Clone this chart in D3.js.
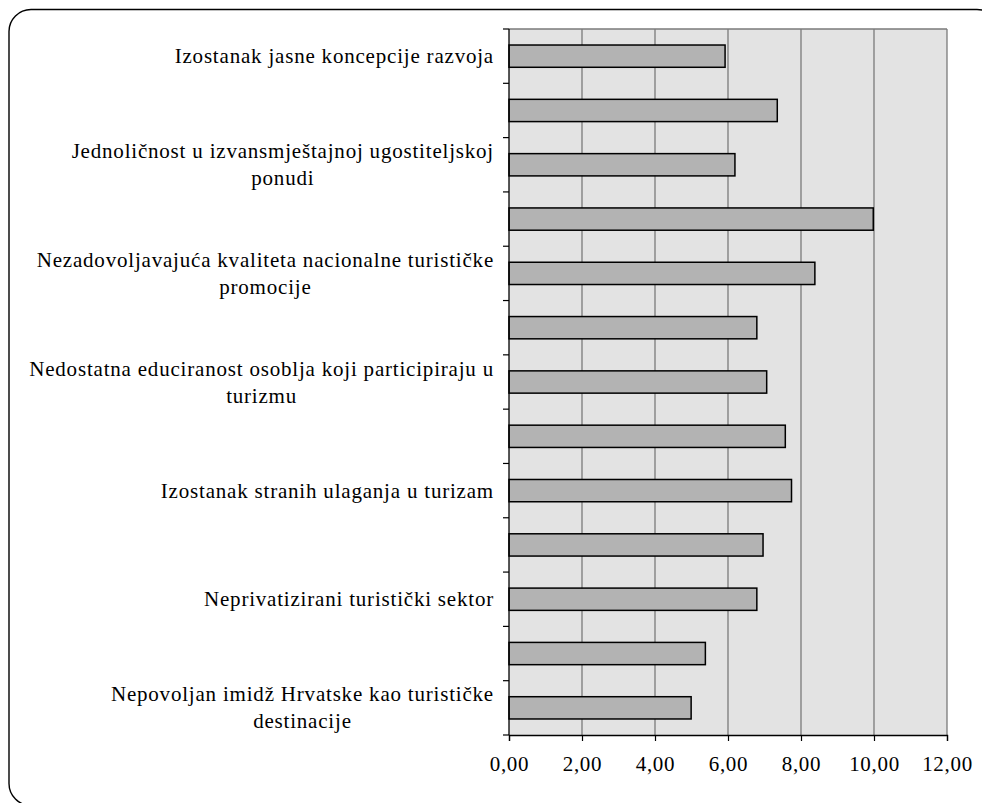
<!DOCTYPE html>
<html>
<head>
<meta charset="utf-8">
<script src="https://cdn.jsdelivr.net/npm/d3@7"></script>
<style>
  html, body { margin: 0; padding: 0; background: #ffffff; }
  svg { display: block; }
</style>
</head>
<body>
<svg id="chart" width="982" height="803"></svg>
<script>
// Category labels (blank entries are unlabelled bars); "\n" marks a line break
const categories = [
  "Izostanak jasne koncepcije razvoja",
  "",
  "Jednoličnost u izvansmještajnoj ugostiteljskoj\nponudi",
  "",
  "Nezadovoljavajuća kvaliteta nacionalne turističke\npromocije",
  "",
  "Nedostatna educiranost osoblja koji participiraju u\nturizmu",
  "",
  "Izostanak stranih ulaganja u turizam",
  "",
  "Neprivatizirani turistički sektor",
  "",
  "Nepovoljan imidž Hrvatske kao turističke\ndestinacije"
];
const values = [5.92, 7.35, 6.19, 9.98, 8.38, 6.79, 7.06, 7.57, 7.74, 6.96, 6.79, 5.38, 4.99];
const tickValues = [0, 2, 4, 6, 8, 10, 12];

const FONT = "'Liberation Serif', Tinos, 'DejaVu Serif', serif";

const svg = d3.select("#chart");

// Outer rounded frame
svg.append("rect")
  .attr("x", 9).attr("y", 9.5)
  .attr("width", 990).attr("height", 796)
  .attr("rx", 22).attr("ry", 22)
  .attr("fill", "none").attr("stroke", "#000").attr("stroke-width", 1.4);

const plot = { left: 509, right: 947, top: 29, bottom: 735 };

const x = d3.scaleLinear().domain([0, 12]).range([plot.left, plot.right]);
const y = d3.scaleBand()
  .domain(d3.range(categories.length))
  .range([plot.top, plot.bottom])
  .paddingInner(0.59).paddingOuter(0.295);
const yTicks = d3.scaleBand().domain(d3.range(categories.length)).range([plot.top, plot.bottom]);

// Plot background
svg.append("rect")
  .attr("x", plot.left).attr("y", plot.top)
  .attr("width", plot.right - plot.left).attr("height", plot.bottom - plot.top)
  .attr("fill", "#e3e3e3");

// Vertical gridlines (including the right border) and top border
svg.append("g").selectAll("line")
  .data(tickValues.slice(1))
  .join("line")
  .attr("x1", d => x(d)).attr("x2", d => x(d))
  .attr("y1", plot.top).attr("y2", plot.bottom)
  .attr("stroke", "#7a7a7a").attr("stroke-width", 1.3);
svg.append("line")
  .attr("x1", plot.left).attr("x2", plot.right)
  .attr("y1", plot.top).attr("y2", plot.top)
  .attr("stroke", "#7a7a7a").attr("stroke-width", 1.3);

// Bars
svg.append("g").selectAll("rect")
  .data(values)
  .join("rect")
  .attr("x", x(0))
  .attr("y", (d, i) => y(i))
  .attr("width", d => x(d) - x(0))
  .attr("height", y.bandwidth())
  .attr("fill", "#b3b3b3")
  .attr("stroke", "#000").attr("stroke-width", 1.5);

// Category axis: line and tick marks on band boundaries
const boundaries = d3.range(categories.length + 1).map(i => plot.top + i * yTicks.step());
svg.append("line")
  .attr("x1", plot.left).attr("x2", plot.left)
  .attr("y1", plot.top).attr("y2", plot.bottom)
  .attr("stroke", "#000").attr("stroke-width", 1.3);
svg.append("g").selectAll("line")
  .data(boundaries)
  .join("line")
  .attr("x1", plot.left - 6).attr("x2", plot.left)
  .attr("y1", d => d).attr("y2", d => d)
  .attr("stroke", "#000").attr("stroke-width", 1.2);

// Value axis
const xAxis = d3.axisBottom(x)
  .tickValues(tickValues)
  .tickSize(6)
  .tickPadding(15)
  .tickFormat(d => d3.format(".2f")(d).replace(".", ","));
const gx = svg.append("g")
  .attr("transform", `translate(0,${plot.bottom})`)
  .call(xAxis)
  .attr("font-family", FONT)
  .attr("font-size", 21);
gx.select(".domain").attr("stroke", "#000").attr("stroke-width", 1.3);
gx.selectAll(".tick line").attr("stroke", "#000").attr("stroke-width", 1.2);
gx.selectAll(".tick text")
  .attr("fill", "#000")
  .style("font-family", FONT)
  .style("letter-spacing", "0.7px");

// Category labels: wrapped lines centred within a right-aligned block
const fontSize = 21, lineHeight = 27, labelRight = 494, spacing = 0.8;
const labels = svg.append("g")
  .attr("font-family", FONT)
  .attr("font-size", fontSize);
categories.forEach((label, i) => {
  if (!label) return;
  const lines = label.split("\n");
  const cy = yTicks(i) + yTicks.bandwidth() / 2;
  const g = labels.append("g");
  const texts = lines.map((ln, k) =>
    g.append("text")
      .style("font-family", FONT)
      .style("letter-spacing", spacing + "px")
      .attr("fill", "#000")
      .attr("text-anchor", "middle")
      .attr("dominant-baseline", "central")
      .attr("y", cy + (k - (lines.length - 1) / 2) * lineHeight)
      .text(ln));
  const widths = texts.map(t => t.node().getComputedTextLength());
  const blockW = d3.max(widths);
  texts.forEach(t => t.attr("x", labelRight - blockW / 2));
});
</script>
</body>
</html>
